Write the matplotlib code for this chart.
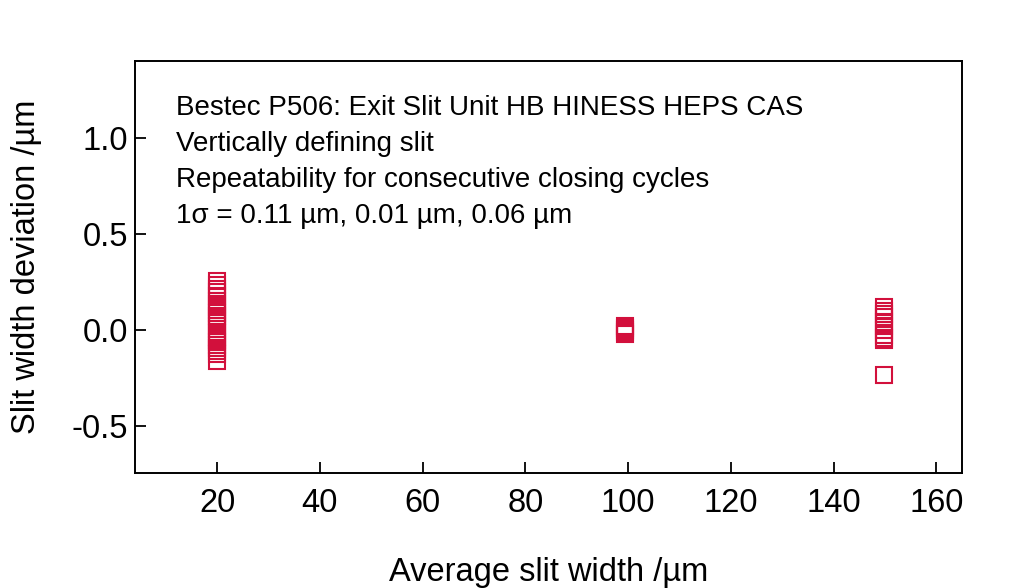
import matplotlib
matplotlib.use("Agg")
import matplotlib.pyplot as plt

plt.rcParams['font.family'] = ['Liberation Sans', 'DejaVu Sans']

# Data
x20 = [20] * 24
y20 = [0.255, 0.235, 0.215, 0.195, 0.175, 0.15, 0.135, 0.12, 0.105, 0.09,
       0.07, 0.055, 0.04, 0.02, 0.005, -0.015, -0.035, -0.05, -0.065, -0.08,
       -0.095, -0.11, -0.125, -0.16]
x100 = [99.4] * 5
y100 = [0.02, 0.01, 0.0, -0.01, -0.02]
x150 = [149.9] * 10
y150 = [0.12, 0.10, 0.085, 0.065, 0.04, 0.02, 0.0, -0.025, -0.04, -0.055]
x150b = [149.9]
y150b = [-0.235]

xticks = [20, 40, 60, 80, 100, 120, 140, 160]
yticks = [-0.5, 0.0, 0.5, 1.0]
ytick_labels = ["-0.5", "0.0", "0.5", "1.0"]

notes = ["Bestec P506: Exit Slit Unit HB HINESS HEPS CAS",
         "Vertically defining slit",
         "Repeatability for consecutive closing cycles",
         "1\u03c3 = 0.11 \u00b5m, 0.01 \u00b5m, 0.06 \u00b5m"]

color = '#d2103c'

fig = plt.figure(figsize=(10.24, 5.88), dpi=100)
ax = fig.add_axes([135/1024, 1-473/588, (962-135)/1024, (473-61)/588])

for xs, ys in [(x20, y20), (x100, y100), (x150, y150), (x150b, y150b)]:
    ax.plot(xs, ys, linestyle='none', marker='s', markersize=11.5,
            markerfacecolor='none', markeredgecolor=color, markeredgewidth=1.5)

ax.set_xlim(4, 165)
ax.set_ylim(-0.745, 1.40)
ax.set_xticks(xticks)
ax.set_yticks(yticks)
ax.set_yticklabels(ytick_labels)
ax.tick_params(direction='in', length=8, width=1.3, labelsize=23.5)
ax.tick_params(axis='x', pad=11)
ax.tick_params(axis='y', pad=5)
for s in ax.spines.values():
    s.set_linewidth(1.4)

ax.set_xlabel("Average slit width /\u00b5m", fontsize=23.5, labelpad=27)
ax.set_ylabel("Slit width deviation /\u00b5m", fontsize=23.5, labelpad=21)

y0 = 0.886
for i, t in enumerate(notes):
    ax.text(0.0496, y0 - i * 36/412, t, transform=ax.transAxes,
            fontsize=20, va='center', ha='left')

fig.savefig("out.png", dpi=100)
